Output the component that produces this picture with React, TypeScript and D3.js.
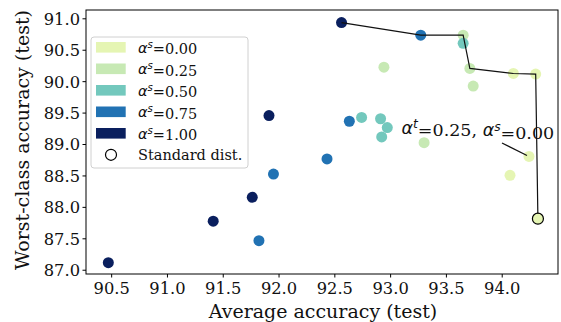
import React from "react";
import * as d3 from "d3";

const W = 561, H = 322;
const margin = { left: 86, right: 2, top: 10, bottom: 48 };

const groupLabels = ["0.00", "0.25", "0.50", "0.75", "1.00"];
const groupColors = ["#e5f5b3", "#c7e9b4", "#73c8bd", "#2172b3", "#0a1f5e"];

// per group points [avg acc, worst-class acc]
const pts000: [number, number][] = [[94.10, 90.13], [94.30, 90.12], [94.24, 88.81], [94.07, 88.51]];
const pts025: [number, number][] = [[93.65, 90.74], [93.71, 90.21], [92.94, 90.23], [93.74, 89.93], [93.30, 89.03]];
const pts050: [number, number][] = [[93.65, 90.61], [92.74, 89.43], [92.91, 89.41], [92.97, 89.27], [92.92, 89.12]];
const pts075: [number, number][] = [[93.27, 90.74], [92.63, 89.37], [92.43, 88.77], [91.95, 88.53], [91.82, 87.47]];
const pts100: [number, number][] = [[92.56, 90.94], [91.91, 89.46], [91.76, 88.16], [91.41, 87.78], [90.47, 87.12]];
const standardPt: [number, number] = [94.32, 87.82];

const paretoLine: [number, number][] = [
  [92.56, 90.94], [93.27, 90.74], [93.65, 90.74], [93.71, 90.21], [94.10, 90.13], [94.30, 90.12], [94.32, 87.82],
];

const annotationPt: [number, number] = [94.24, 88.81];

const xTicks = [90.5, 91.0, 91.5, 92.0, 92.5, 93.0, 93.5, 94.0];
const yTicks = [87.0, 87.5, 88.0, 88.5, 89.0, 89.5, 90.0, 90.5, 91.0];

const FONT = "'DejaVu Serif', serif";

function Alpha({ sup }: { sup: string }) {
  return (
    <>
      <tspan fontFamily="'DejaVu Sans', sans-serif" fontStyle="italic">α</tspan>
      <tspan fontFamily="'DejaVu Sans', sans-serif" fontStyle="italic" fontSize="0.7em" dy="-0.45em">{sup}</tspan>
      <tspan dy="0.45em">=</tspan>
    </>
  );
}

export default function App() {
  const x = d3.scaleLinear().domain([90.27, 94.5]).range([margin.left, W - margin.right - 1]);
  const y = d3.scaleLinear().domain([86.94, 91.14]).range([H - margin.bottom, margin.top]);
  const groups = [pts000, pts025, pts050, pts075, pts100];
  const line = d3.line<[number, number]>().x(d => x(d[0])).y(d => y(d[1]));
  const r = 5.5;
  const x0 = margin.left, x1 = W - margin.right - 1, y0 = margin.top, y1 = H - margin.bottom;

  const ax = x(annotationPt[0]), ay = y(annotationPt[1]);

  return (
    <svg width={W} height={H} style={{ position: "absolute", left: 0, top: 0, background: "#fff" }} fontFamily={FONT}>
      <rect x={0} y={0} width={W} height={H} fill="#fff" />
      {groups.map((g, gi) => g.map((p, i) => (
        <circle key={`${gi}-${i}`} cx={x(p[0])} cy={y(p[1])} r={r} fill={groupColors[gi]} />
      )))}
      <path d={line(paretoLine) || ""} fill="none" stroke="#111" strokeWidth={1.2} />
      <circle cx={x(standardPt[0])} cy={y(standardPt[1])} r={r} fill={groupColors[0]} stroke="#000" strokeWidth={1.2} />
      {/* annotation */}
      <line x1={ax - 27} y1={ay - 13.5} x2={ax - 2} y2={ay - 1} stroke="#111" strokeWidth={1.2} />
      <text x={401.5} y={134} fontSize={17.5} fill="#111">
        <Alpha sup="t" />0.25, <Alpha sup="s" />0.00
      </text>
      {/* axes frame */}
      <rect x={x0} y={y0} width={x1 - x0} height={y1 - y0} fill="none" stroke="#000" strokeWidth={1} />
      {xTicks.map(t => (
        <g key={t}>
          <line x1={x(t)} x2={x(t)} y1={y1} y2={y1 + 3.5} stroke="#000" />
          <text x={x(t)} y={y1 + 19.5} textAnchor="middle" fontSize={16.3} fill="#111">{t.toFixed(1)}</text>
        </g>
      ))}
      {yTicks.map(t => (
        <g key={t}>
          <line x1={x0 - 3.5} x2={x0} y1={y(t)} y2={y(t)} stroke="#000" />
          <text x={x0 - 6} y={y(t)} dy="0.36em" textAnchor="end" fontSize={16.3} fill="#111">{t.toFixed(1)}</text>
        </g>
      ))}
      <text x={323} y={318} textAnchor="middle" fontSize={19} fill="#111">Average accuracy (test)</text>
      <text transform={`translate(22, 140) rotate(-90)`} textAnchor="middle" dy="0.35em" fontSize={19} fill="#111">Worst-class accuracy (test)</text>
      {/* legend */}
      <rect x={91} y={37} width={157} height={131} rx={3} fill="#fff" fillOpacity={0.8} stroke="#d0d0d0" strokeWidth={1} />
      {groupLabels.map((lab, i) => {
        const cy = 47.3 + i * 21.5;
        return (
          <g key={lab}>
            <rect x={96} y={cy - 5.3} width={29.7} height={10.6} fill={groupColors[i]} />
            <text x={138} y={cy} dy="0.36em" fontSize={14.5} fill="#111"><Alpha sup="s" />{lab}</text>
          </g>
        );
      })}
      <circle cx={111} cy={47.3 + 5 * 21.5} r={5.5} fill="#fff" stroke="#000" strokeWidth={1.2} />
      <text x={138} y={47.3 + 5 * 21.5} dy="0.36em" fontSize={14.5} fill="#111">Standard dist.</text>
    </svg>
  );
}
